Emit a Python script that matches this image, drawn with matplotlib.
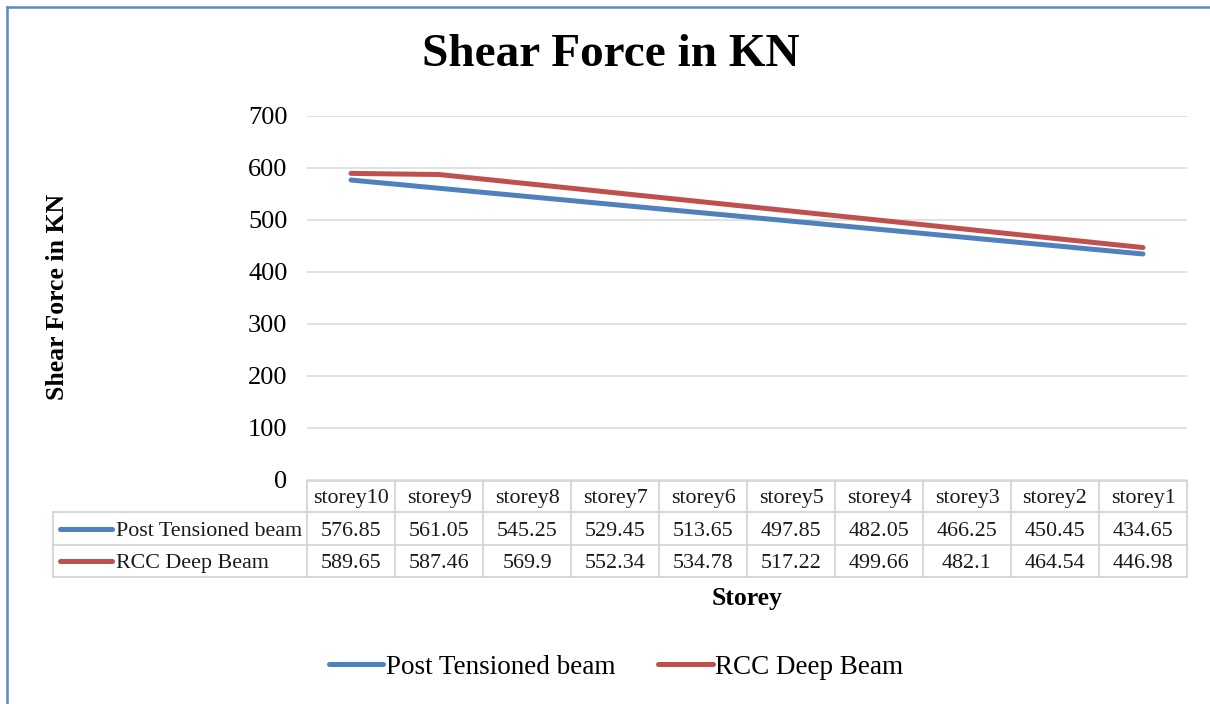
import numpy as np
import matplotlib
matplotlib.use("Agg")
import matplotlib.pyplot as plt
from matplotlib.lines import Line2D

plt.rcParams['font.family'] = ['Liberation Serif', 'DejaVu Serif']

storeys = ["storey10", "storey9", "storey8", "storey7", "storey6",
           "storey5", "storey4", "storey3", "storey2", "storey1"]
post_tensioned = [576.85, 561.05, 545.25, 529.45, 513.65,
                  497.85, 482.05, 466.25, 450.45, 434.65]
rcc_deep = [589.65, 587.46, 569.9, 552.34, 534.78,
            517.22, 499.66, 482.1, 464.54, 446.98]
series_names = ["Post Tensioned beam", "RCC Deep Beam"]
yticks = [0, 100, 200, 300, 400, 500, 600, 700]

blue = "#4F81BD"
red = "#C0504D"
grid_col = "#D9D9D9"

W, H = 1210, 704
fig = plt.figure(figsize=(W / 100, H / 100), dpi=100)

# plot area in pixels: x 307..1187, y 116..480
ax_l, ax_r, ax_t, ax_b = 307, 1187, 116, 480
ax = fig.add_axes([ax_l / W, 1 - ax_b / H, (ax_r - ax_l) / W, (ax_b - ax_t) / H])

x = np.arange(len(storeys))
l1, = ax.plot(x, post_tensioned, color=blue, lw=3.6, solid_capstyle="round", zorder=3)
l2, = ax.plot(x, rcc_deep, color=red, lw=3.6, solid_capstyle="round", zorder=3)

ax.set_xlim(-0.5, len(storeys) - 0.5)
ax.set_ylim(0, 700)
ax.set_yticks(yticks)
ax.set_yticklabels([str(v) for v in yticks], fontsize=19)
ax.set_xticks([])
ax.tick_params(axis="y", length=0, pad=14)
for s in ax.spines.values():
    s.set_visible(False)
ax.grid(axis="y", color=grid_col, lw=1.1)
ax.set_axisbelow(True)

# data table under the plot, columns follow the x axis
tr = ax.get_xaxis_transform()
px2ay = lambda py: (ax_b - py) / (ax_b - ax_t)
px2dx = lambda px: -0.5 + (px - ax_l) / ((ax_r - ax_l) / len(storeys))

rows_y = [px2ay(481), px2ay(512), px2ay(545), px2ay(577)]
lab_left = px2dx(53)
right = len(storeys) - 0.5
bc = "#D4D4D4"
blw = 1.3

ax.plot([-0.5, right], [rows_y[0]] * 2, transform=tr, color=bc, lw=blw, clip_on=False)
for yy in rows_y[1:]:
    ax.plot([lab_left, right], [yy, yy], transform=tr, color=bc, lw=blw, clip_on=False)
for k in range(len(storeys) + 1):
    ax.plot([k - 0.5, k - 0.5], [rows_y[0], rows_y[3]], transform=tr,
            color=bc, lw=blw, clip_on=False)
ax.plot([lab_left, lab_left], [rows_y[1], rows_y[3]], transform=tr,
        color=bc, lw=blw, clip_on=False)

centers = [(rows_y[i] + rows_y[i + 1]) / 2 for i in range(3)]
fs_tab = 15.8
for i, name in enumerate(storeys):
    ax.text(i, centers[0], name, transform=tr, ha="center", va="center_baseline",
            fontsize=fs_tab, color="#1a1a1a", clip_on=False)
    ax.text(i, centers[1], f"{post_tensioned[i]:g}", transform=tr, ha="center",
            va="center_baseline", fontsize=fs_tab, color="#1a1a1a", clip_on=False)
    ax.text(i, centers[2], f"{rcc_deep[i]:g}", transform=tr, ha="center",
            va="center_baseline", fontsize=fs_tab, color="#1a1a1a", clip_on=False)

for cy, col, name in zip(centers[1:], [blue, red], series_names):
    ax.plot([px2dx(60), px2dx(112)], [cy, cy], transform=tr, color=col, lw=3.6,
            solid_capstyle="round", clip_on=False)
    ax.text(px2dx(116), cy, name, transform=tr, ha="left", va="center_baseline",
            fontsize=fs_tab, color="#1a1a1a", clip_on=False)

# titles
fig.text(611 / W, 1 - 55 / H, "Shear Force in KN", ha="center", va="center",
         fontsize=34, fontweight="bold")
fig.text(747 / W, 1 - 598 / H, "Storey", ha="center", va="center",
         fontsize=18.5, fontweight="bold")
fig.text(58 / W, 1 - 297 / H, "Shear Force in KN", ha="center", va="center",
         fontsize=18.5, fontweight="bold", rotation=90)

fig.legend([l1, l2], series_names, loc="center", bbox_to_anchor=(616 / W, 1 - 667 / H),
           ncol=2, frameon=False, fontsize=19.5, handlelength=2.0,
           handletextpad=0.1, columnspacing=1.6)

# chart border (left and top visible)
border = "#5B8BC6"
fig.add_artist(Line2D([7 / W, 7 / W], [0, 1 - 7 / H], color=border, lw=1.8))
fig.add_artist(Line2D([7 / W, 1], [1 - 7 / H, 1 - 7 / H], color=border, lw=1.8))

fig.savefig("out.png", dpi=100)
